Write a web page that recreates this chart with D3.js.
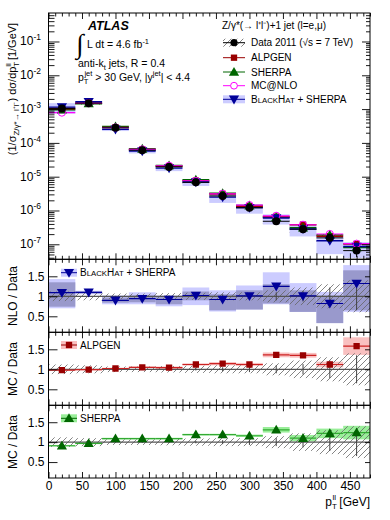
<!DOCTYPE html>
<html><head><meta charset="utf-8">
<script src="https://cdn.jsdelivr.net/npm/d3@7"></script>
<style>body{margin:0;background:#fff} text{font-family:"Liberation Sans",Arial,Helvetica,sans-serif;fill:#000}</style>
</head><body><svg id="c" width="390" height="520"></svg>
<script>
// ---- data ----
const binEdges = [0,40,80,120,160,200,240,280,320,360,400,440,480];
const dataVals = [1.05e-3,1.5e-3,2.8e-4,6.1e-5,1.95e-5,6.8e-6,2.7e-6,1.2e-6,4.8e-7,2.8e-7,1.55e-7,6.5e-8];
const dataStat = [0.01,0.01,0.01,0.02,0.02,0.03,0.05,0.07,0.1,0.13,0.22,0.35];
const dataSyst = [0.12,0.1,0.07,0.07,0.08,0.09,0.1,0.1,0.15,0.22,0.3,0.4];
const alpgenRatio = [0.98,0.99,1.02,1.05,1.04,1.12,1.14,1.12,1.36,1.35,1.12,1.58];
const alpgenErr = [0.02,0.02,0.02,0.02,0.03,0.03,0.04,0.04,0.06,0.06,0.07,0.22];
const sherpaRatio = [0.91,0.97,1.09,1.09,1.09,1.19,1.19,1.16,1.31,1.10,1.22,1.24];
const sherpaErr = [0.02,0.02,0.02,0.02,0.02,0.02,0.02,0.03,0.07,0.08,0.12,0.17];
const mcnloRatio = [0.75,1.0,1.02,1.05,1.08,1.1,1.15,1.2,1.45,1.35,1.3,1.6];
const nloRatio = [1.09,1.10,0.90,0.94,0.92,1.02,0.92,1.01,1.25,1.01,0.82,1.32];
const nloTotLo = [0.70,1.05,0.80,0.80,0.75,0.78,0.62,0.67,0.80,0.61,0.33,0.61];
const nloTotHi = [1.43,1.14,1.02,1.10,1.02,1.22,1.15,1.27,1.60,1.33,1.11,1.78];
const nloScaleLo = [0.74,1.07,0.84,0.85,0.80,0.90,0.65,0.67,0.82,0.61,0.33,0.65];
const nloScaleHi = [1.35,1.12,0.97,1.02,0.98,1.12,1.05,1.15,1.30,1.15,1.02,1.65];
const xMajorTicks = [0,50,100,150,200,250,300,350,400,450];
const ratioTicks = [0.5,1,1.5];
const logDecades = [-7,-6,-5,-4,-3,-2,-1];

// ---- layout ----
const svg = d3.select("#c");
const X0 = 48.5, X1 = 370;
const x = d3.scaleLinear().domain([0,480]).range([X0,X1]);
const mainTop = 13, mainBot = 259.3;
const y = d3.scaleLog().domain([Math.pow(10,-7.444), Math.pow(10,-0.157)]).range([mainBot, mainTop]);
const panels = [
  {top:259.3, bot:332.3},
  {top:332.3, bot:405.3},
  {top:405.3, bot:478}
];
panels.forEach(p => p.y = d3.scaleLinear().domain([0.1,1.925]).range([p.bot,p.top]));

const COL = {alp:"#990000", alpBand:"#f9c0c0", alpLine:"#cc2222",
  she:"#006600", sheBand:"#99ee99", sheLine:"#33aa33",
  mc:"#ff00ff", bh:"#000099", bhLight:"#ccccff", bhDark:"#9999cc"};

const defs = svg.append("defs");
const pat = defs.append("pattern").attr("id","hatch").attr("patternUnits","userSpaceOnUse")
  .attr("width",6).attr("height",6);
pat.append("path").attr("d","M-1,1 l2,-2 M0,6 l6,-6 M5,7 l2,-2").attr("stroke","#666").attr("stroke-width",0.8);
function clip(id, top, bot){
  defs.append("clipPath").attr("id",id).append("rect").attr("x",X0).attr("y",top).attr("width",X1-X0).attr("height",bot-top);
}
clip("cm", mainTop, mainBot);
panels.forEach((p,i)=>clip("cp"+i, p.top, p.bot));

const bins = dataVals.map((d,i)=>({i, lo:binEdges[i], hi:binEdges[i+1], c:(binEdges[i]+binEdges[i+1])/2, d}));

function marker(g, type, cx, cy, color, size){
  if(type==="circle") g.append("circle").attr("cx",cx).attr("cy",cy).attr("r",size).attr("fill",color);
  else if(type==="ocircle") g.append("circle").attr("cx",cx).attr("cy",cy).attr("r",size).attr("fill","none").attr("stroke",color).attr("stroke-width",1);
  else if(type==="square") g.append("path").attr("d",d3.symbol(d3.symbolSquare, size)()).attr("transform",`translate(${cx},${cy})`).attr("fill",color);
  else if(type==="tri") g.append("path").attr("d",d3.symbol(d3.symbolTriangle, size)()).attr("transform",`translate(${cx},${cy+0.8})`).attr("fill",color);
  else if(type==="itri") g.append("path").attr("d",d3.symbol(d3.symbolTriangle, size)()).attr("transform",`translate(${cx},${cy-0.8}) rotate(180)`).attr("fill",color);
}

// ---- main panel ----
const gm = svg.append("g").attr("clip-path","url(#cm)");
gm.selectAll(".dh").data(bins).join("rect")
  .attr("x",b=>x(b.lo)).attr("width",b=>x(b.hi)-x(b.lo))
  .attr("y",b=>y(b.d*(1+dataSyst[b.i]))).attr("height",b=>y(b.d*(1-dataSyst[b.i]))-y(b.d*(1+dataSyst[b.i])))
  .attr("fill","url(#hatch)");
gm.selectAll(".bb").data(bins).join("rect")
  .attr("x",b=>x(b.lo)).attr("width",b=>x(b.hi)-x(b.lo))
  .attr("y",b=>y(b.d*nloTotHi[b.i])).attr("height",b=>y(b.d*nloTotLo[b.i])-y(b.d*nloTotHi[b.i]))
  .attr("fill",COL.bhLight);
const mainSeries = [
  {r:sherpaRatio, col:COL.she, lw:1.6},
  {r:alpgenRatio, col:COL.alp, lw:1.6},
  {r:mcnloRatio, col:COL.mc, lw:1.2},
  {r:nloRatio, col:COL.bh, lw:1.4}
];
mainSeries.forEach(s=>{
  gm.selectAll(null).data(bins).join("line")
    .attr("x1",b=>x(b.lo)).attr("x2",b=>x(b.hi))
    .attr("y1",b=>y(b.d*s.r[b.i])).attr("y2",b=>y(b.d*s.r[b.i]))
    .attr("stroke",s.col).attr("stroke-width",s.lw);
});
gm.selectAll(null).data(bins).join("line")
  .attr("x1",b=>x(b.lo)).attr("x2",b=>x(b.hi)).attr("y1",b=>y(b.d)).attr("y2",b=>y(b.d))
  .attr("stroke","#000").attr("stroke-width",1);
gm.selectAll(null).data(bins).join("line")
  .attr("x1",b=>x(b.c)).attr("x2",b=>x(b.c)).attr("y1",b=>y(b.d*(1+dataStat[b.i]))).attr("y2",b=>y(b.d*(1-dataStat[b.i])))
  .attr("stroke","#000").attr("stroke-width",1);
bins.forEach(b=>{
  marker(gm,"square",x(b.c),y(b.d*alpgenRatio[b.i]),COL.alp,40);
  marker(gm,"tri",x(b.c),y(b.d*sherpaRatio[b.i]),COL.she,45);
  marker(gm,"itri",x(b.c),y(b.d*nloRatio[b.i]),COL.bh,45);
  marker(gm,"ocircle",x(b.c),y(b.d*mcnloRatio[b.i]),COL.mc,3.6);
  marker(gm,"circle",x(b.c),y(b.d),"#000",4);
});

// ---- ratio panels ----
function ratioPanel(idx, cfg){
  const p = panels[idx];
  const g = svg.append("g").attr("clip-path",`url(#cp${idx})`);
  const yr = p.y;
  if(cfg.bands){
    cfg.bands.forEach(bd=>{
      g.selectAll(null).data(bins).join("rect")
        .attr("x",b=>x(b.lo)).attr("width",b=>x(b.hi)-x(b.lo))
        .attr("y",b=>yr(bd.hi[b.i])).attr("height",b=>yr(bd.lo[b.i])-yr(bd.hi[b.i]))
        .attr("fill",bd.col);
    });
  }
  g.selectAll(null).data(bins).join("rect")
    .attr("x",b=>x(b.lo)).attr("width",b=>x(b.hi)-x(b.lo))
    .attr("y",b=>yr(1+dataSyst[b.i])).attr("height",b=>yr(1-dataSyst[b.i])-yr(1+dataSyst[b.i]))
    .attr("fill","url(#hatch)");
  g.append("line").attr("x1",X0).attr("x2",X1).attr("y1",yr(1)).attr("y2",yr(1)).attr("stroke","#555").attr("stroke-width",1.3);
  g.selectAll(null).data(bins).join("line")
    .attr("x1",b=>x(b.c)).attr("x2",b=>x(b.c)).attr("y1",b=>yr(1+dataStat[b.i])).attr("y2",b=>yr(1-dataStat[b.i]))
    .attr("stroke","#444").attr("stroke-width",1);
  g.selectAll(null).data(bins).join("line")
    .attr("x1",b=>x(b.lo)).attr("x2",b=>x(b.hi))
    .attr("y1",b=>yr(cfg.r[b.i])).attr("y2",b=>yr(cfg.r[b.i]))
    .attr("stroke",cfg.line).attr("stroke-width",1.2);
  bins.forEach(b=>marker(g,cfg.marker,x(b.c),yr(cfg.r[b.i]),cfg.col,cfg.msize));
}
ratioPanel(0,{r:nloRatio, col:COL.bh, line:COL.bh, marker:"itri", msize:45,
  bands:[{lo:nloTotLo,hi:nloTotHi,col:COL.bhLight},{lo:nloScaleLo,hi:nloScaleHi,col:COL.bhDark}]});
ratioPanel(1,{r:alpgenRatio, col:COL.alp, line:COL.alpLine, marker:"square", msize:40,
  bands:[{lo:alpgenRatio.map((v,i)=>v-alpgenErr[i]),hi:alpgenRatio.map((v,i)=>v+alpgenErr[i]),col:COL.alpBand}]});
ratioPanel(2,{r:sherpaRatio, col:COL.she, line:COL.sheLine, marker:"tri", msize:45,
  bands:[{lo:sherpaRatio.map((v,i)=>v-sherpaErr[i]),hi:sherpaRatio.map((v,i)=>v+sherpaErr[i]),col:COL.sheBand}]});

// ---- axes ----
const xMinor = d3.range(0,481,10).filter(v=>v%50!==0);
function xTicks(yPos, dir, lab){
  const axMaj = (dir<0?d3.axisBottom(x):d3.axisTop(x)).tickValues(xMajorTicks).tickSize(-6).tickPadding(3)
    .tickFormat(lab?d3.format("d"):"");
  const axMin = (dir<0?d3.axisBottom(x):d3.axisTop(x)).tickValues(xMinor).tickSize(-3.5).tickFormat("");
  [axMaj,axMin].forEach(a=>{
    const g = svg.append("g").attr("transform",`translate(0,${yPos})`).call(a);
    g.select(".domain").remove();
    g.selectAll("line").attr("stroke","#000").attr("stroke-width",0.9);
    g.selectAll("text").style("font-size","12px").attr("fill","#000");
  });
}
xTicks(mainTop, 1, false);
xTicks(mainBot, -1, false);
panels.forEach((p,i)=>{ xTicks(p.top,1,false); xTicks(p.bot,-1,i===2); });

const yAxL = d3.axisLeft(y).tickValues(logDecades.map(e=>Math.pow(10,e))).tickSize(-11).tickFormat("");
const minorVals = [];
for(let e=-8;e<=0;e++) for(let k=2;k<=9;k++){ const v=k*Math.pow(10,e); if(v>y.domain()[0]&&v<y.domain()[1]) minorVals.push(v); }
const yAxLm = d3.axisLeft(y).tickValues(minorVals).tickSize(-6).tickFormat("");
const yAxR = d3.axisRight(y).tickValues(logDecades.map(e=>Math.pow(10,e))).tickSize(-8).tickFormat("");
const yAxRm = d3.axisRight(y).tickValues(minorVals).tickSize(-4).tickFormat("");
[[yAxL,X0],[yAxLm,X0],[yAxR,X1],[yAxRm,X1]].forEach(([a,px])=>{
  const g = svg.append("g").attr("transform",`translate(${px},0)`).call(a);
  g.select(".domain").remove();
  g.selectAll("line").attr("stroke","#000").attr("stroke-width",0.9);
});
logDecades.forEach(e=>{
  const t = svg.append("text").attr("x",41).attr("y",y(Math.pow(10,e))+4).attr("text-anchor","end").style("font-size","12px");
  t.append("tspan").text("10");
  t.append("tspan").attr("dy",-5).style("font-size","8.5px").text(String(e));
});
panels.forEach(p=>{
  const aL = d3.axisLeft(p.y).tickValues(ratioTicks).tickSize(-9).tickPadding(4).tickFormat(d=>d===1?"1":d3.format(".1f")(d));
  const aR = d3.axisRight(p.y).tickValues(ratioTicks).tickSize(-5).tickFormat("");
  const gL = svg.append("g").attr("transform",`translate(${X0},0)`).call(aL);
  const gR = svg.append("g").attr("transform",`translate(${X1},0)`).call(aR);
  [gL,gR].forEach(g=>{g.select(".domain").remove(); g.selectAll("line").attr("stroke","#000").attr("stroke-width",0.9);});
  gL.selectAll("text").style("font-size","12px").attr("fill","#000");
});
svg.append("rect").attr("x",X0).attr("y",mainTop).attr("width",X1-X0).attr("height",mainBot-mainTop).attr("fill","none").attr("stroke","#000").attr("stroke-width",1);
panels.forEach(p=>svg.append("rect").attr("x",X0).attr("y",p.top).attr("width",X1-X0).attr("height",p.bot-p.top).attr("fill","none").attr("stroke","#000").attr("stroke-width",1));

// ---- axis titles ----
const yt = svg.append("text").attr("transform","translate(16,89) rotate(-90)").attr("text-anchor","middle").style("font-size","11px");
yt.append("tspan").text("(1/σ");
yt.append("tspan").attr("dy",3).style("font-size","8px").text("Z/γ*→ l⁺l⁻");
yt.append("tspan").attr("dy",-3).text(") dσ/dp");
yt.append("tspan").attr("dy",3).style("font-size","8px").text("T");
yt.append("tspan").attr("dy",-8).attr("dx",-5).style("font-size","8px").text("ll");
yt.append("tspan").attr("dy",5).text(" [1/GeV]");
[["NLO / Data",296],["MC / Data",369],["MC / Data",442]].forEach(([t,cy])=>{
  svg.append("text").attr("transform",`translate(17,${cy}) rotate(-90)`).attr("text-anchor","middle").style("font-size","12px").text(t);
});
const xt = svg.append("text").attr("x",370).attr("y",506).attr("text-anchor","end").style("font-size","12px");
xt.append("tspan").text("p");
xt.append("tspan").attr("dy",3).style("font-size","8px").text("T");
xt.append("tspan").attr("dy",-9.5).attr("dx",-4.5).style("font-size","8px").text("ll");
xt.append("tspan").attr("dy",6.5).text(" [GeV]");

// ---- labels ----
svg.append("text").attr("x",88).attr("y",30).style("font-size","12.5px").style("font-weight","bold").style("font-style","italic").text("ATLAS");
svg.append("text").attr("x",76).attr("y",53).style("font-size","27px").style("font-family","DejaVu Sans").style("font-weight","300").text("∫");
const lum = svg.append("text").attr("x",87).attr("y",48).style("font-size","10.5px");
lum.append("tspan").text("L dt = 4.6 fb");
lum.append("tspan").attr("dy",-4).style("font-size","7.5px").text("-1");
const ak = svg.append("text").attr("x",78).attr("y",67).style("font-size","10.5px");
ak.append("tspan").text("anti-k");
ak.append("tspan").attr("dy",3).style("font-size","7.5px").text("t");
ak.append("tspan").attr("dy",-3).text(" jets, R = 0.4");
const pj = svg.append("text").attr("x",78).attr("y",81).style("font-size","10.5px");
pj.append("tspan").text("p");
pj.append("tspan").attr("dy",3).style("font-size","7.5px").text("T");
pj.append("tspan").attr("dy",-8).attr("dx",-4).style("font-size","7.5px").text("jet");
pj.append("tspan").attr("dy",5).text(" > 30 GeV, |y");
pj.append("tspan").attr("dy",-5).style("font-size","7.5px").text("jet");
pj.append("tspan").attr("dy",5).text("| < 4.4");

// ---- legend ----
svg.append("text").attr("x",222).attr("y",29).style("font-size","10px").text("Z/γ*(→ l⁺l⁻)+1 jet (l=e,μ)");
const legRows = [
  {name:"Data 2011 (√s = 7 TeV)", y:42.7, kind:"data"},
  {name:"ALPGEN", y:57.7, kind:"alp"},
  {name:"SHERPA", y:72, kind:"she"},
  {name:"MC@NLO", y:85.7, kind:"mc"},
  {name:"BH", y:99.3, kind:"bh"}
];
const lg = svg.append("g");
function bhText(t, fs){
  t.append("tspan").text("B");
  t.append("tspan").style("font-size",(fs*0.78)+"px").text("LACK");
  t.append("tspan").text("H");
  t.append("tspan").style("font-size",(fs*0.78)+"px").text("AT");
  t.append("tspan").text(" + SHERPA");
}
legRows.forEach(r=>{
  const lx0=223, lx1=245, mx=234;
  if(r.kind==="data"){
    lg.append("rect").attr("x",lx0).attr("y",r.y-4).attr("width",lx1-lx0).attr("height",8).attr("fill","url(#hatch)");
    lg.append("line").attr("x1",lx0).attr("x2",lx1).attr("y1",r.y).attr("y2",r.y).attr("stroke","#000");
    marker(lg,"circle",mx,r.y,"#000",3.6);
  } else if(r.kind==="alp"){
    lg.append("line").attr("x1",lx0).attr("x2",lx1).attr("y1",r.y).attr("y2",r.y).attr("stroke",COL.alp);
    marker(lg,"square",mx,r.y,COL.alp,40);
  } else if(r.kind==="she"){
    lg.append("line").attr("x1",lx0).attr("x2",lx1).attr("y1",r.y).attr("y2",r.y).attr("stroke",COL.she);
    marker(lg,"tri",mx,r.y,COL.she,45);
  } else if(r.kind==="mc"){
    lg.append("line").attr("x1",lx0).attr("x2",lx1).attr("y1",r.y).attr("y2",r.y).attr("stroke",COL.mc);
    lg.append("circle").attr("cx",mx).attr("cy",r.y).attr("r",3.4).attr("fill","#fff").attr("stroke",COL.mc);
  } else {
    lg.append("rect").attr("x",lx0).attr("y",r.y-4).attr("width",lx1-lx0).attr("height",8).attr("fill",COL.bhLight);
    lg.append("line").attr("x1",lx0).attr("x2",lx1).attr("y1",r.y).attr("y2",r.y).attr("stroke",COL.bh);
    marker(lg,"itri",mx,r.y,COL.bh,45);
  }
  const t = lg.append("text").attr("x",251).attr("y",r.y+3.6).style("font-size","10px");
  if(r.kind==="bh") bhText(t,10); else t.text(r.name);
});
const rl = [
  {p:0, col:COL.bhLight, lc:COL.bh, m:"itri", mc:COL.bh, name:null, y:272.7},
  {p:1, col:COL.alpBand, lc:COL.alp, m:"square", mc:COL.alp, name:"ALPGEN", y:345},
  {p:2, col:COL.sheBand, lc:COL.she, m:"tri", mc:COL.she, name:"SHERPA", y:418.3}
];
rl.forEach(r=>{
  lg.append("rect").attr("x",61).attr("y",r.y-4).attr("width",16).attr("height",8).attr("fill",r.col);
  lg.append("line").attr("x1",61).attr("x2",77).attr("y1",r.y).attr("y2",r.y).attr("stroke",r.lc);
  marker(lg,r.m,69,r.y,r.mc,r.m==="square"?40:45);
  const t = lg.append("text").attr("x",80).attr("y",r.y+3.6).style("font-size","10px");
  if(r.name) t.text(r.name); else bhText(t,10);
});
</script></body></html>
